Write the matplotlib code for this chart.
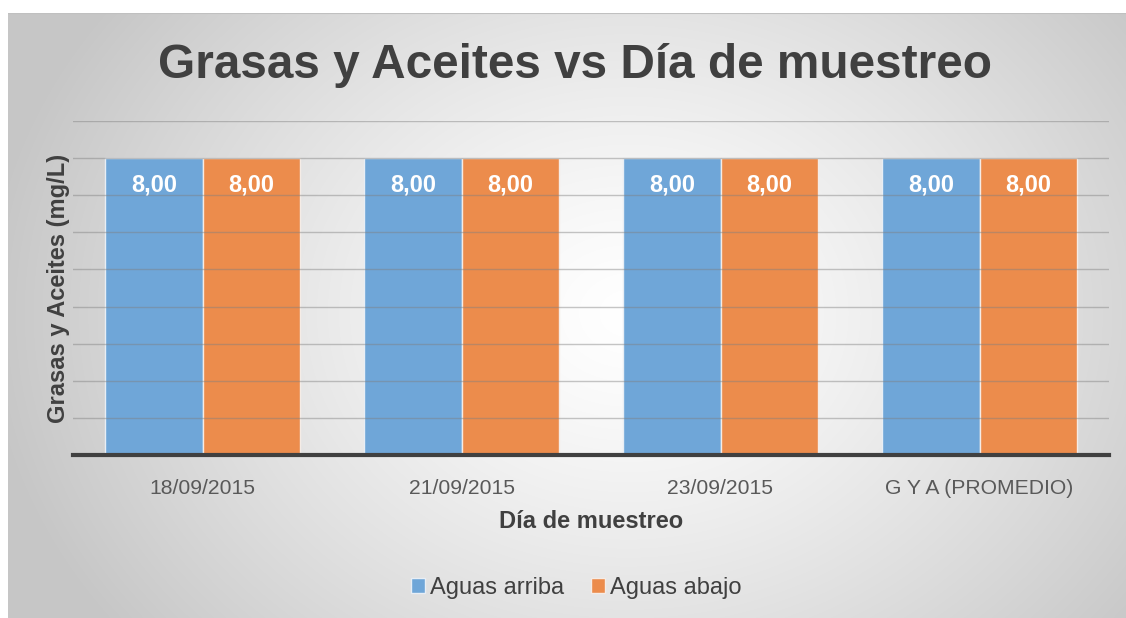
import numpy as np
import matplotlib.pyplot as plt

plt.rcParams['font.family'] = ['Liberation Sans', 'DejaVu Sans']

fechas = ["18/09/2015", "21/09/2015", "23/09/2015", "G Y A (PROMEDIO)"]
aguas_arriba = [8.00, 8.00, 8.00, 8.00]
aguas_abajo = [8.00, 8.00, 8.00, 8.00]

azul = "#6fa6d8"
naranja = "#ec8c4c"
texto = "#404040"

fig = plt.figure(figsize=(11.26, 6.18), dpi=100)

# fondo con degradado radial
bg = fig.add_axes([8/1126, 0, 1 - 8/1126, 1 - 13/618])
h, w = 605, 1118
yy, xx = np.mgrid[0:h, 0:w]
cx, cy = 620, 300
d = np.sqrt(((xx - cx)/640.)**2 + ((yy - cy)/520.)**2)
d = np.clip(d, 0, 1)
g = 1.0 - 0.22*d**1.3
bg.imshow(np.dstack([g, g, g]), aspect='auto', extent=[0, 1, 0, 1])
bg.axhline(1, color="#c0c0c0", lw=1.5)
bg.axis('off')

ax = fig.add_axes([73/1126, 1 - 455/618, (1109 - 73)/1126, (455 - 121)/618])
ax.patch.set_alpha(0)

x = np.arange(len(fechas))
ancho = 0.375
b1 = ax.bar(x - ancho/2, aguas_arriba, ancho, color=azul, edgecolor="#e8eef5", lw=1, zorder=2,
            label="Aguas arriba")
b2 = ax.bar(x + ancho/2, aguas_abajo, ancho, color=naranja, edgecolor="#f5ece6", lw=1, zorder=2,
            label="Aguas abajo")

for barras in (b1, b2):
    for r in barras:
        ax.text(r.get_x() + r.get_width()/2, r.get_height() - 0.72, f"{r.get_height():.2f}".replace('.', ','),
                ha='center', va='center', color='white', fontsize=17, fontweight='bold', zorder=4)

ax.set_xlim(-0.5, len(fechas) - 0.5)
ax.set_ylim(0, 9)
ax.set_yticks(np.arange(1, 10))
ax.yaxis.grid(True, color="#808080", lw=1, alpha=0.45, zorder=3)
ax.set_axisbelow(False)
ax.tick_params(axis='y', length=0, labelleft=False)
ax.tick_params(axis='x', length=0, labelsize=15.2, labelcolor="#595959", pad=17)
ax.set_xticks(x)
ax.set_xticklabels(fechas)
for s in ['top', 'right', 'left']:
    ax.spines[s].set_visible(False)
ax.spines['bottom'].set_color(texto)
ax.spines['bottom'].set_linewidth(3)
ax.spines['bottom'].set_zorder(5)

ax.set_xlabel("Día de muestreo", fontsize=17, fontweight='bold', color=texto, labelpad=9)
ax.set_ylabel("Grasas y Aceites (mg/L)", fontsize=17, fontweight='bold', color=texto)
ax.yaxis.set_label_coords(-0.003, 0.5)

fig.text(575/1126, 1 - 66/618, "Grasas y Aceites vs Día de muestreo", ha='center', va='center',
         fontsize=34.4, fontweight='bold', color=texto)

fig.legend(handles=[b1, b2], loc='center', bbox_to_anchor=(576/1126, 1 - 588/618), ncol=2,
           frameon=False, fontsize=17, labelcolor="#404040", handlelength=0.6, handleheight=0.6,
           handletextpad=0.2, columnspacing=1.15)

fig.savefig("out.png", dpi=100)
